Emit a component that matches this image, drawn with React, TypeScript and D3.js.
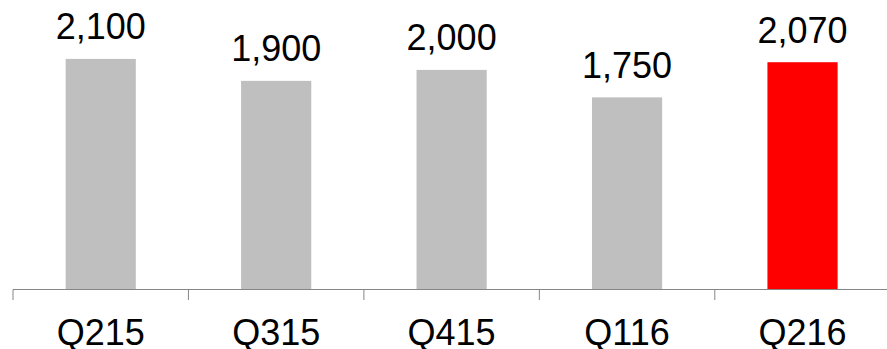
import React from "react";
import * as d3 from "d3";

const categories: string[] = ["Q215", "Q315", "Q415", "Q116", "Q216"];
const values: number[] = [2100, 1900, 2000, 1750, 2070];
const highlight: string = "Q216";

const W = 887;
const H = 349;
const FONT = "'Liberation Sans', Arial, sans-serif";

export default function App() {
  const baseline = 289.5;
  const x = d3
    .scaleBand<string>()
    .domain(categories)
    .range([13, 13 + 175.45 * categories.length])
    .paddingInner(0.6)
    .paddingOuter(0.3);
  const y = d3.scaleLinear().domain([0, 2500]).range([baseline, 15]);
  const fmt = d3.format(",");
  const step = x.step();
  const ticks = d3.range(categories.length + 1).map((i) => 13 + i * step);

  return (
    <svg
      width={W}
      height={H}
      style={{ position: "absolute", left: 0, top: 0, background: "#fff" }}
      fontFamily={FONT}
    >
      {categories.map((c, i) => (
        <g key={c}>
          <rect
            x={x(c)}
            y={y(values[i])}
            width={x.bandwidth()}
            height={baseline - y(values[i])}
            fill={c === highlight ? "#FF0000" : "#BFBFBF"}
          />
          <text
            x={(x(c) as number) + x.bandwidth() / 2}
            y={y(values[i]) - 19.5}
            textAnchor="middle"
            fontSize={36}
            fill="#000"
          >
            {fmt(values[i])}
          </text>
          <text
            x={(x(c) as number) + x.bandwidth() / 2}
            y={345}
            textAnchor="middle"
            fontSize={36}
            fill="#000"
          >
            {c}
          </text>
        </g>
      ))}
      <line x1={13} x2={ticks[ticks.length - 1]} y1={baseline} y2={baseline} stroke="#868686" strokeWidth={1} />
      {ticks.map((t, i) => (
        <line key={i} x1={t} x2={t} y1={baseline} y2={baseline + 10.5} stroke="#868686" strokeWidth={1} />
      ))}
    </svg>
  );
}
